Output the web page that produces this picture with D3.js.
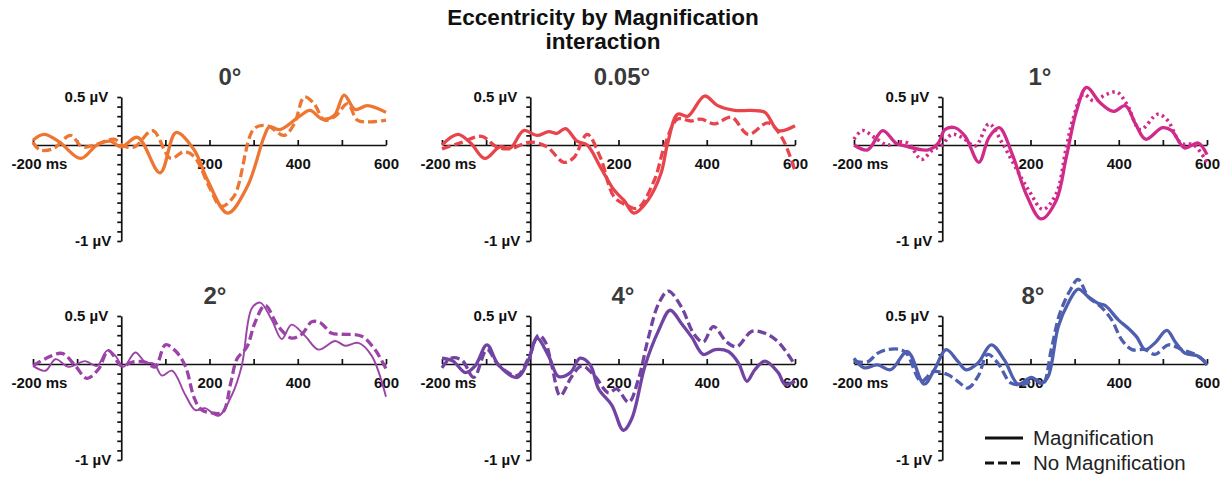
<!DOCTYPE html>
<html>
<head>
<meta charset="utf-8">
<script src="https://cdn.jsdelivr.net/npm/d3@7"></script>
<style>
  body { margin: 0; background: #fff; }
  svg text { font-family: Arial, "Liberation Sans", sans-serif; }
</style>
</head>
<body>
<svg id="chart" width="1222" height="479"></svg>
<script>
// panel titles (eccentricity)
const conditions = ["0°", "0.05°", "1°", "2°", "4°", "8°"];
const colors = ["#EE7633", "#E8444C", "#D12B8A", "#9B43A6", "#7244A2", "#4F5FB0"];
const xTickValues = [-200, -100, 100, 200, 300, 400, 500, 600];
const xLabelValues = [-200, 200, 400, 600];
const yTickValues = d3.range(-10, 6).map(d => d / 10);
const legendLabels = ["Magnification", "No Magnification"];

// [ms, µV]
const mag0 = [[-200,0.05],[-175,0.11],[-140,0.03],[-92,-0.14],[-55,0],[-25,0.04],[0,-0.02],[37,0.08],[88,-0.29],[124,0.13],[165,-0.05],[195,-0.36],[241,-0.71],[286,-0.43],[324,0.09],[336,0.19],[360,0.16],[407,0.31],[428,0.36],[456,0.27],[483,0.31],[505,0.52],[530,0.37],[558,0.41],[600,0.34]];
const noMag0 = [[-200,0.03],[-185,-0.05],[-155,-0.04],[-115,0.1],[-88,-0.02],[-55,0.01],[-16,0.06],[5,-0.01],[30,-0.02],[71,0.15],[112,-0.14],[142,-0.07],[165,-0.12],[203,-0.47],[226,-0.64],[256,-0.53],[301,0.17],[331,0.2],[369,0.1],[392,0.22],[415,0.5],[437,0.43],[460,0.26],[485,0.3],[513,0.43],[535,0.26],[565,0.24],[600,0.26]];

const mag005 = [[-200,0],[-164,0.11],[-135,0.02],[-103,-0.14],[-69,-0.02],[-45,-0.03],[-15,0.15],[15,0.1],[42,0.14],[60,0.12],[80,0.17],[106,0.04],[129,0],[159,-0.23],[190,-0.47],[213,-0.58],[235,-0.71],[266,-0.58],[296,-0.3],[311,0.01],[334,0.32],[357,0.3],[395,0.51],[425,0.41],[463,0.36],[501,0.36],[532,0.34],[562,0.15],[600,0.2]];
const noMag005 = [[-200,-0.04],[-160,0.02],[-110,0.09],[-76,-0.02],[-46,-0.04],[0,0.03],[38,-0.02],[76,-0.18],[99,-0.13],[129,0.11],[159,-0.13],[190,-0.54],[220,-0.63],[243,-0.66],[281,-0.37],[305,0],[334,0.27],[364,0.25],[387,0.27],[418,0.22],[456,0.29],[494,0.11],[539,0.23],[570,0.08],[600,-0.27]];

const mag1 = [[-200,0],[-169,-0.05],[-135,0.15],[-105,0.02],[-85,-0.01],[-32,-0.05],[-9,0.02],[6,0.16],[29,0.18],[52,0.09],[83,-0.18],[106,0.08],[129,0.18],[159,-0.1],[190,-0.51],[224,-0.77],[258,-0.58],[281,-0.13],[304,0.35],[327,0.6],[358,0.44],[388,0.35],[415,0.41],[438,0.22],[461,0.06],[499,0.18],[520,0.15],[549,-0.03],[580,0.02],[600,-0.1]];
const noMag1 = [[-200,0.06],[-181,0.15],[-154,0.08],[-124,0],[-100,0.03],[-78,0.02],[-47,-0.15],[-24,-0.06],[-1,0],[22,0.11],[45,0.08],[75,-0.01],[106,0.22],[136,0.02],[167,-0.24],[197,-0.48],[228,-0.67],[258,-0.51],[281,-0.03],[297,0.28],[320,0.53],[343,0.46],[373,0.53],[396,0.55],[419,0.42],[449,0.16],[488,0.32],[510,0.26],[541,0.02],[570,0],[600,-0.18]];

const mag2 = [[-200,-0.02],[-172,-0.07],[-149,0.05],[-119,-0.03],[-82,0.03],[-55,-0.02],[-32,0.14],[-14,0.09],[5,-0.03],[32,0.12],[54,0.02],[75,0],[92,-0.12],[115,-0.07],[145,-0.32],[168,-0.48],[190,-0.46],[220,-0.54],[251,-0.32],[273,-0.02],[296,0.58],[315,0.64],[341,0.46],[364,0.26],[386,0.41],[417,0.29],[447,0.15],[485,0.24],[507,0.19],[537,0.22],[567,0.09],[600,-0.34]];
const noMag2 = [[-200,-0.02],[-170,0.06],[-134,0.11],[-104,-0.02],[-78,-0.15],[-51,-0.05],[-29,0.14],[1,-0.02],[25,0.02],[54,0.02],[77,-0.03],[100,0.2],[122,0.14],[145,-0.02],[165,-0.35],[180,-0.47],[205,-0.51],[230,-0.5],[248,-0.2],[262,0.05],[285,0.18],[303,0.43],[326,0.61],[356,0.39],[386,0.27],[409,0.31],[432,0.44],[451,0.43],[477,0.32],[500,0.31],[545,0.29],[575,0.15],[600,-0.05]];

const mag4 = [[-200,0.06],[-175,0.03],[-147,-0.09],[-125,-0.02],[-98,0.2],[-72,-0.01],[-30,-0.14],[-4,0.04],[15,0.27],[42,0.08],[64,-0.13],[91,-0.09],[113,0.06],[136,-0.01],[155,-0.26],[185,-0.43],[211,-0.69],[230,-0.57],[260,-0.02],[291,0.35],[317,0.56],[343,0.42],[366,0.28],[392,0.1],[419,0.15],[449,0.13],[472,0.01],[491,-0.18],[509,-0.06],[532,0.03],[562,-0.09],[577,-0.21],[600,-0.18]];
const noMag4 = [[-200,-0.04],[-180,0.06],[-155,0.04],[-128,-0.14],[-98,0.15],[-72,-0.01],[-30,-0.12],[-4,0.06],[19,0.3],[34,0.23],[49,-0.02],[68,-0.33],[94,-0.13],[117,-0.02],[147,-0.13],[177,-0.3],[196,-0.26],[223,-0.4],[245,-0.16],[268,0.28],[291,0.63],[313,0.76],[343,0.59],[370,0.32],[392,0.23],[415,0.39],[445,0.23],[468,0.18],[502,0.34],[532,0.32],[562,0.23],[600,-0.01]];

const mag8 = [[-200,0.06],[-177,-0.04],[-147,-0.01],[-117,-0.06],[-79,0.13],[-41,-0.21],[-18,-0.06],[9,0.15],[35,0.03],[54,-0.06],[81,0.01],[111,0.2],[141,0.04],[172,-0.21],[202,-0.14],[225,-0.2],[240,-0.13],[263,0.39],[285,0.63],[308,0.78],[331,0.7],[354,0.63],[369,0.61],[399,0.46],[422,0.37],[441,0.28],[460,0.15],[482,0.22],[509,0.35],[528,0.23],[551,0.11],[581,0.08],[600,-0.01]];
const noMag8 = [[-200,0.03],[-170,0.02],[-147,0.11],[-124,0.15],[-94,0.15],[-79,0.1],[-48,-0.18],[-20,-0.08],[12,-0.11],[35,-0.18],[58,-0.25],[81,-0.13],[103,0.1],[126,0.01],[156,-0.2],[187,-0.21],[209,-0.16],[228,-0.21],[247,0.15],[266,0.52],[289,0.76],[308,0.88],[331,0.7],[361,0.59],[384,0.46],[407,0.25],[430,0.15],[460,0.15],[482,0.1],[513,0.2],[543,0.15],[573,0.1],[600,0.01]];

const magSeries = [mag0, mag005, mag1, mag2, mag4, mag8];
const noMagSeries = [noMag0, noMag005, noMag1, noMag2, noMag4, noMag8];

// panel placement
const colX = [33, 442, 854];
const rowTop = [97, 316];
const panelW = 353, panelH = 144;
const titleX = [230, 622, 1040, 215, 623, 1033];

const svg = d3.select("#chart");

svg.append("text")
    .attr("x", 603).attr("y", 25)
    .attr("text-anchor", "middle")
    .attr("font-size", 22.5).attr("font-weight", "bold")
    .attr("fill", "#111")
    .text("Eccentricity by Magnification");
svg.append("text")
    .attr("x", 603).attr("y", 49)
    .attr("text-anchor", "middle")
    .attr("font-size", 22.5).attr("font-weight", "bold")
    .attr("fill", "#111")
    .text("interaction");

conditions.forEach((cond, i) => {
    const x0 = colX[i % 3];
    const top = rowTop[Math.floor(i / 3)];
    const xScale = d3.scaleLinear().domain([-200, 600]).range([x0, x0 + panelW]);
    const yScale = d3.scaleLinear().domain([-1, 0.5]).range([top + panelH, top]);
    const g = svg.append("g");

    g.append("text")
        .attr("x", titleX[i])
        .attr("y", top - 12)
        .attr("text-anchor", "middle")
        .attr("font-size", 24).attr("font-weight", "bold")
        .attr("fill", "#3a3a3a")
        .text(cond);

    // x axis at 0 µV, ticks pointing up
    const xAxis = d3.axisBottom(xScale)
        .tickValues(xTickValues)
        .tickSizeInner(-5)
        .tickSizeOuter(0)
        .tickPadding(13)
        .tickFormat(d => xLabelValues.includes(d) ? (d === -200 ? "-200 ms" : d) : "");
    const xg = g.append("g")
        .attr("transform", `translate(0,${yScale(0)})`)
        .call(xAxis);
    xg.selectAll("text")
        .attr("font-size", 15).attr("font-weight", "bold")
        .attr("fill", "#111")
        .attr("font-family", "Arial, 'Liberation Sans', sans-serif");
    xg.selectAll("text").filter(d => d === -200)
        .attr("text-anchor", "start")
        .attr("x", -22);

    // y axis at 0 ms
    const yAxis = d3.axisLeft(yScale)
        .tickValues(yTickValues)
        .tickSizeInner(4)
        .tickSizeOuter(0)
        .tickPadding(6)
        .tickFormat(d => Math.abs(d - 0.5) < 1e-6 ? "0.5 µV" : (Math.abs(d + 1) < 1e-6 ? "-1 µV" : ""));
    const yg = g.append("g")
        .attr("transform", `translate(${xScale(0)},0)`)
        .call(yAxis);
    yg.selectAll("text")
        .attr("font-size", 15).attr("font-weight", "bold")
        .attr("fill", "#111")
        .attr("font-family", "Arial, 'Liberation Sans', sans-serif");
    yg.selectAll("text").filter(d => Math.abs(d - 0.5) < 1e-6).attr("dx", -3);

    g.selectAll(".domain, .tick line")
        .attr("stroke", "#111")
        .attr("stroke-width", 1.7);

    const line = d3.line()
        .x(d => xScale(d[0]))
        .y(d => yScale(d[1]))
        .curve(d3.curveCatmullRom.alpha(0.5));

    // dashed (dotted for 1°) = No Magnification
    g.append("path")
        .datum(noMagSeries[i])
        .attr("fill", "none")
        .attr("stroke", colors[i])
        .attr("stroke-width", i === 2 ? 3.6 : 3.3)
        .attr("stroke-dasharray", i === 2 ? "2.5,3.5" : "9,4")
        .attr("d", line);

    g.append("path")
        .datum(magSeries[i])
        .attr("fill", "none")
        .attr("stroke", colors[i])
        .attr("stroke-width", i === 3 ? 1.9 : 3.3)
        .attr("stroke-linejoin", "round")
        .attr("d", line);
});

// legend
const legend = svg.append("g").attr("transform", "translate(985,438)");
legendLabels.forEach((lab, i) => {
    legend.append("line")
        .attr("x1", 0).attr("x2", 38)
        .attr("y1", i * 25).attr("y2", i * 25)
        .attr("stroke", "#111")
        .attr("stroke-width", 3.2)
        .attr("stroke-dasharray", i === 0 ? null : "9,4");
    legend.append("text")
        .attr("x", 48).attr("y", i * 25 + 7)
        .attr("font-size", 20.5)
        .attr("fill", "#222")
        .text(lab);
});
</script>
</body>
</html>
